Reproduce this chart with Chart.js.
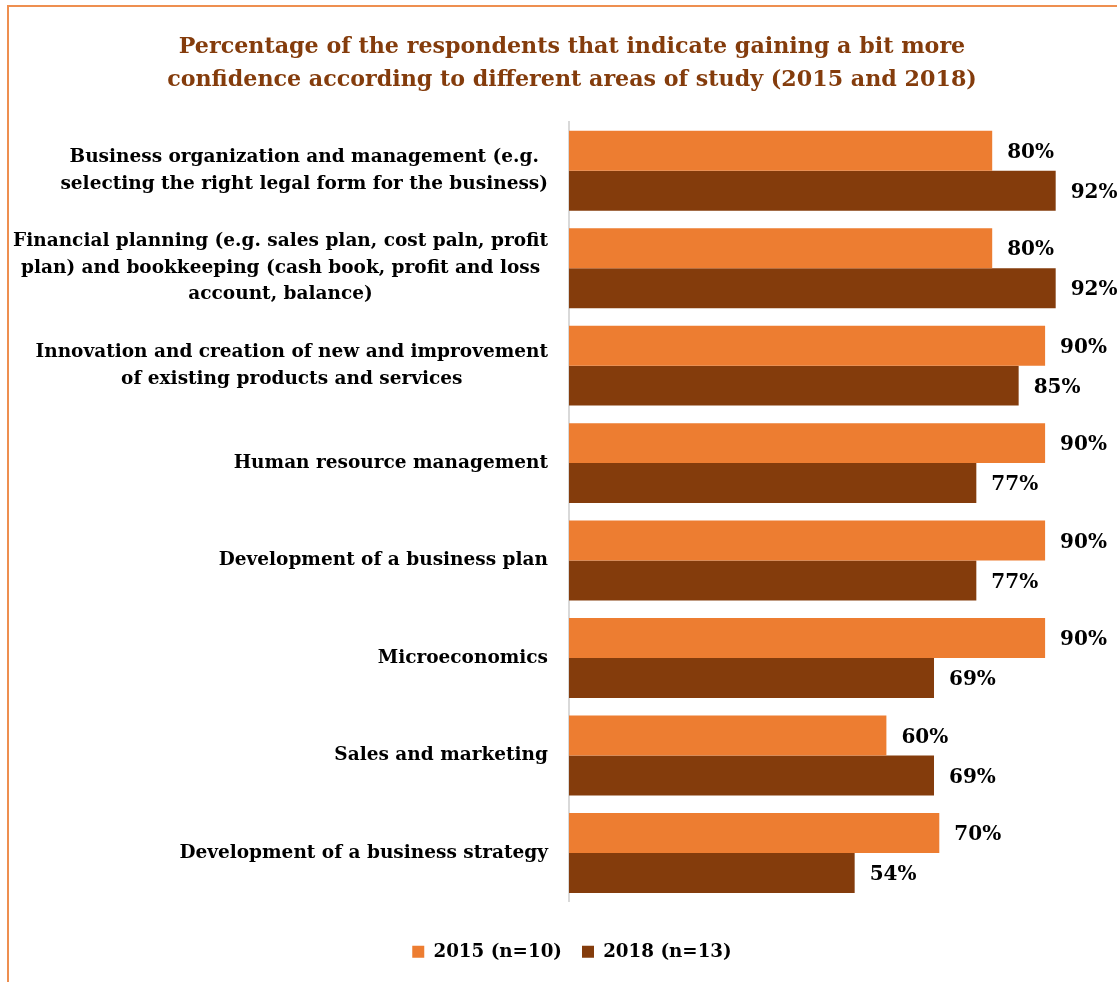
<!DOCTYPE html>
<html>
<head>
<meta charset="utf-8">
<script src="https://cdn.jsdelivr.net/npm/chart.js@4.4.1/dist/chart.umd.min.js"></script>
<style>
  html, body { margin: 0; padding: 0; background: #ffffff; overflow: hidden; width: 1117px; height: 982px; }
  #frame { position: absolute; left: 7px; top: 5px; width: 2000px; height: 2000px; border-top: 2px solid #EE8F50; border-left: 2px solid #EE8F50; box-sizing: border-box; }
  #wrap { position: absolute; left: 9px; top: 7px; width: 1126px; height: 990px; }
</style>
</head>
<body>
<div id="frame"></div>
<div id="wrap"><canvas id="c"></canvas></div>
<script>
const titleLines = [
  "Percentage of the respondents that indicate gaining a bit more",
  "confidence according to different areas of study (2015 and 2018)"
];
const categories = [
  ["Business organization and management (e.g.", "selecting the right legal form for the business)"],
  ["Financial planning (e.g. sales plan, cost paln, profit", "plan) and bookkeeping (cash book, profit and loss", "account, balance)"],
  ["Innovation and creation of new and improvement", "of existing products and services"],
  ["Human resource management"],
  ["Development of a business plan"],
  ["Microeconomics"],
  ["Sales and marketing"],
  ["Development of a business strategy"]
];
const series2015 = [80, 80, 90, 90, 90, 90, 60, 70];
const series2018 = [92, 92, 85, 77, 77, 69, 69, 54];
const seriesNames = ["2015 (n=10)", "2018 (n=13)"];

const FONT = "'DejaVu Serif', serif";
const ORANGE = "#ED7D31";
const BROWN = "#843C0C";

const catLabelPlugin = {
  id: 'catLabels',
  afterDraw(chart) {
    const ctx = chart.ctx;
    const ys = chart.scales.y;
    const rightX = ys.right - 21;
    const lh = 26.5;
    ctx.save();
    ctx.font = "bold 18.5px " + FONT;
    ctx.fillStyle = "#000000";
    ctx.textBaseline = "middle";
    ctx.textAlign = "center";
    categories.forEach((lines, i) => {
      const y = ys.getPixelForTick(i);
      const maxW = Math.max(...lines.map(l => ctx.measureText(l).width));
      const cx = rightX - maxW / 2;
      const y0 = y - (lines.length - 1) * lh / 2;
      lines.forEach((l, k) => ctx.fillText(l, cx, y0 + k * lh));
    });
    ctx.restore();
  }
};

const valueLabelPlugin = {
  id: 'valueLabels',
  afterDatasetsDraw(chart) {
    const ctx = chart.ctx;
    ctx.save();
    ctx.font = "bold 20px " + FONT;
    ctx.fillStyle = "#000000";
    ctx.textBaseline = "middle";
    ctx.textAlign = "left";
    chart.data.datasets.forEach((ds, di) => {
      const meta = chart.getDatasetMeta(di);
      meta.data.forEach((bar, i) => {
        ctx.fillText(ds.data[i] + "%", bar.x + 15, bar.y + 2);
      });
    });
    ctx.restore();
  }
};

new Chart(document.getElementById('c'), {
  type: 'bar',
  data: {
    labels: categories,
    datasets: [
      { label: seriesNames[0], data: series2015, backgroundColor: ORANGE, categoryPercentage: 0.82, barPercentage: 1.0 },
      { label: seriesNames[1], data: series2018, backgroundColor: BROWN, categoryPercentage: 0.82, barPercentage: 1.0 }
    ]
  },
  options: {
    indexAxis: 'y',
    responsive: true,
    maintainAspectRatio: false,
    animation: false,
    layout: { padding: { left: 37, right: 37, top: 0, bottom: 26 } },
    scales: {
      x: {
        display: true, min: 0, max: 100,
        grid: { display: false }, border: { display: false }, ticks: { display: false },
        afterFit(s) { s.height = 21; }
      },
      y: {
        grid: { display: false },
        border: { display: true, color: '#D9D9D9', width: 2 },
        ticks: { display: false },
        afterFit(s) { s.width = 523; }
      }
    },
    plugins: {
      title: {
        display: true,
        text: titleLines,
        color: BROWN,
        font: { family: FONT, size: 22.2, weight: 'bold', lineHeight: 1.486 },
        padding: { top: 24, bottom: 25 }
      },
      legend: {
        position: 'bottom',
        labels: {
          boxWidth: 12, boxHeight: 12, color: '#000000', padding: 20,
          font: { family: FONT, size: 18.3, weight: 'bold' }
        }
      },
      tooltip: { enabled: false }
    }
  },
  plugins: [catLabelPlugin, valueLabelPlugin]
});
</script>
</body>
</html>
